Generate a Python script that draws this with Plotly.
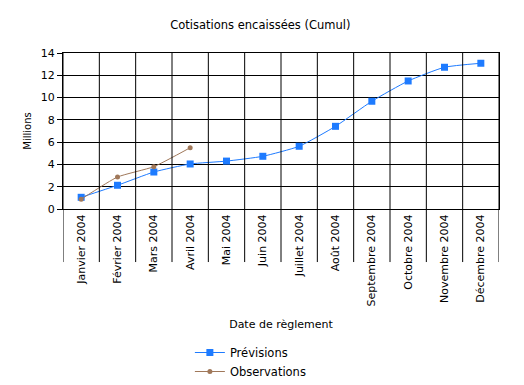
import plotly.graph_objects as go

months = ["Janvier 2004", "Février 2004", "Mars 2004", "Avril 2004", "Mai 2004", "Juin 2004",
          "Juillet 2004", "Août 2004", "Septembre 2004", "Octobre 2004", "Novembre 2004", "Décembre 2004"]
previsions = [1.05, 2.13, 3.32, 4.04, 4.3, 4.73, 5.63, 7.42, 9.67, 11.49, 12.72, 13.08]
observations = [0.88, 2.87, 3.8, 5.5]
y_ticks = [0, 2, 4, 6, 8, 10, 12, 14]

FONT = "DejaVu Sans"
BLUE = "#1e7bff"
BROWN = "#a0785a"
fig = go.Figure()
fig.add_trace(go.Scatter(x=months, y=previsions, name="Prévisions", mode="lines+markers",
                         line=dict(color=BLUE, width=1, shape="spline", smoothing=0.5),
                         marker=dict(symbol="square", size=7, color=BLUE)))
fig.add_trace(go.Scatter(x=months[:len(observations)], y=observations, name="Observations",
                         mode="lines+markers",
                         line=dict(color=BROWN, width=1, shape="spline", smoothing=0.5),
                         marker=dict(symbol="circle", size=5, color=BROWN)))

# vertical separators extending through the label area
for i in range(len(months) + 1):
    fig.add_shape(type="line", xref="x", yref="paper", x0=i - 0.5, x1=i - 0.5, y0=-0.34, y1=1,
                  line=dict(color="black", width=1), layer="above")

fig.update_layout(
    width=516, height=377,
    margin=dict(l=55, r=25, t=45, b=176, autoexpand=False),
    paper_bgcolor="white", plot_bgcolor="white",
    font=dict(family=FONT, size=11, color="black"),
    title=dict(text="Cotisations encaissées (Cumul)", x=0.489, xanchor="center",
               yref="container", y=1 - 17 / 377, yanchor="middle",
               font=dict(family=FONT, size=11.5, color="black")),
    showlegend=True,
    legend=dict(x=0.291, y=-0.827, xanchor="left", yanchor="top", orientation="v",
                font=dict(family=FONT, size=11.5, color="black"), tracegroupgap=0, itemwidth=30),
    xaxis=dict(type="category", range=[-0.5, len(months) - 0.5], showgrid=False, tickangle=-90,
               ticks="", showline=True, linecolor="black", mirror=True, automargin=False,
               tickfont=dict(family=FONT, size=11),
               title=dict(text="Date de règlement", font=dict(family=FONT, size=11), standoff=14)),
    yaxis=dict(range=[0, 14], tickvals=y_ticks, showgrid=True, gridcolor="black", gridwidth=1,
               showline=True, linecolor="black", mirror=True, ticks="outside", ticklen=5,
               tickcolor="black", zeroline=False, tickfont=dict(family=FONT, size=11),
               automargin=False,
               title=dict(text="Millions", font=dict(family=FONT, size=10), standoff=7)),
)
fig.write_html("out.html")
